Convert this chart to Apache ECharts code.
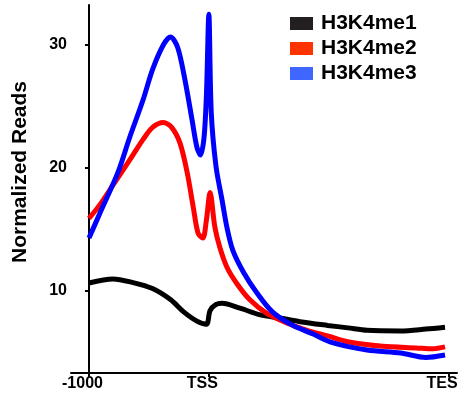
<!doctype html>
<html>
    <head>
        <meta charset="utf-8">
        <style>
            html, body { margin: 0; padding: 0; background: #fff; }
            #main { width: 461px; height: 400px; }
        </style>
    </head>
    <body>
        <div id="main"></div>
        <script src="https://cdn.jsdelivr.net/npm/echarts@6/dist/echarts.min.js"></script>
        <script>
            // x is in bins: 0 = -1000, 100 = TSS, 300 = TES
            var xTicks = [0, 100, 300];
            var xTickLabels = ['-1000', 'TSS', 'TES'];
            var yTicks = [10, 20, 30];

            var seriesNames = ['H3K4me1', 'H3K4me2', 'H3K4me3'];
            var lineColors = ['#000000', '#ff0000', '#0000ff'];
            var legendColors = ['#231f20', '#ff3300', '#3f66ff'];

            var me1 = [[0, 10.65], [20, 10.98], [36, 10.7], [53, 10.2], [68, 9.3], [79, 8.3],
                [90, 7.55], [98, 7.3], [101, 8.4], [106, 8.9], [111, 9.0], [126, 8.6],
                [143, 8.05], [159, 7.8], [176, 7.5], [199, 7.2], [216, 7.0], [232, 6.8],
                [260, 6.75], [281, 6.9], [297, 7.05]];
            var me2 = [[0, 15.9], [9, 17.0], [20, 18.6], [34, 20.65], [45, 22.3], [53, 23.3],
                [62, 23.7], [69, 23.3], [76, 22.0], [82, 19.6], [87, 16.8], [91, 14.7],
                [95, 14.3], [98, 15.8], [101, 18.0], [105, 15.2], [109, 13.6], [115, 11.95],
                [123, 10.65], [134, 9.3], [148, 8.2], [165, 7.4], [182, 6.8], [199, 6.35],
                [217, 5.85], [245, 5.5], [273, 5.37], [287, 5.3], [297, 5.45]];
            var me3 = [[0, 14.3], [9, 16.3], [24, 19.6], [34, 22.5], [45, 25.5], [53, 28.0],
                [62, 30.0], [68, 30.65], [74, 29.8], [80, 27.2], [86, 23.9], [90, 21.7],
                [93, 21.05], [96, 22.5], [98, 26.0], [100, 32.5], [102, 24.5], [106, 20.1],
                [111, 17.4], [115, 15.2], [120, 13.3], [129, 11.5], [140, 9.85], [153, 8.3],
                [170, 7.2], [187, 6.5], [203, 5.8], [232, 5.2], [260, 4.96], [281, 4.6],
                [297, 4.8]];
            var seriesData = [me1, me2, me3];

            var font = 'Liberation Sans, Arial, sans-serif';
            var chart = echarts.init(document.getElementById('main'));

            chart.setOption({
                animation: false,
                grid: { left: 71, right: 4, top: 5, bottom: 27 },
                legend: {
                    orient: 'vertical',
                    left: 285,
                    top: 8,
                    icon: 'rect',
                    itemWidth: 23,
                    itemHeight: 13,
                    itemGap: 4,
                    textStyle: {
                        fontFamily: font, fontSize: 21, fontWeight: 'bold',
                        color: '#000', lineHeight: 21, padding: [0, 0, 0, 3]
                    },
                    data: seriesNames.map(function (n, i) {
                        return { name: n, itemStyle: { color: legendColors[i], borderWidth: 0 } };
                    })
                },
                xAxis: {
                    type: 'value',
                    min: -15,
                    max: 307,
                    splitLine: { show: false },
                    axisLine: { lineStyle: { color: '#000', width: 2 } },
                    axisTick: { customValues: xTicks, length: 4, lineStyle: { color: '#000', width: 2 } },
                    axisLabel: {
                        customValues: xTicks,
                        margin: 3,
                        padding: [0, 13, 0, 0],
                        fontFamily: font, fontSize: 16, fontWeight: 'bold', color: '#000',
                        formatter: function (v) { return xTickLabels[xTicks.indexOf(v)]; }
                    }
                },
                yAxis: {
                    type: 'value',
                    min: 3.33,
                    max: 33.25,
                    name: 'Normalized Reads',
                    nameLocation: 'middle',
                    nameGap: 40,
                    nameTextStyle: {
                        fontFamily: font, fontSize: 21, fontWeight: 'bold', color: '#000',
                        padding: [0, 0, 0, 34]
                    },
                    splitLine: { show: false },
                    axisLine: { show: true, lineStyle: { color: '#000', width: 2 } },
                    axisTick: { show: true, customValues: yTicks, length: 4, lineStyle: { color: '#000', width: 2 } },
                    axisLabel: {
                        customValues: yTicks,
                        margin: 4,
                        fontFamily: font, fontSize: 16, fontWeight: 'bold', color: '#000'
                    }
                },
                series: seriesNames.map(function (n, i) {
                    return {
                        name: n,
                        type: 'line',
                        data: seriesData[i],
                        showSymbol: false,
                        smooth: 0.3,
                        color: lineColors[i],
                        lineStyle: { width: 5, color: lineColors[i] }
                    };
                })
            });

            window.onresize = chart.resize;
        </script>
    </body>
</html>
